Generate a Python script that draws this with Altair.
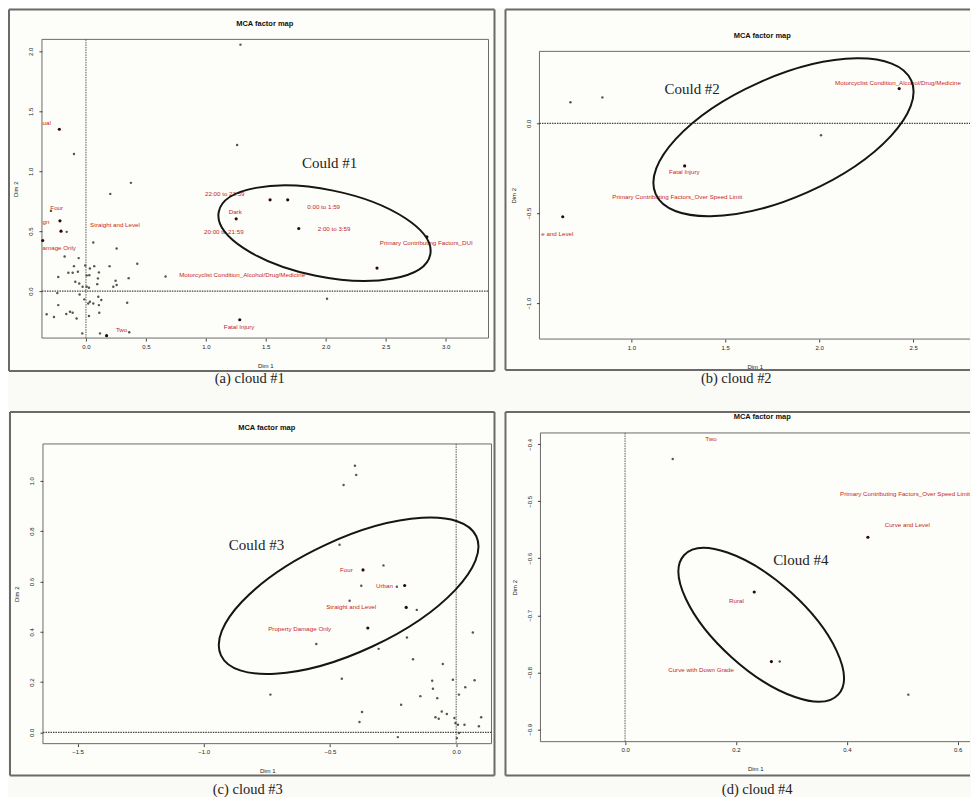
import altair as alt
import pandas as pd

SANS = "Liberation Sans"
SERIF = "Liberation Serif"
BG = "#fafaf6"
PANEL_FILL = "#fdfdf9"
RED = "#c81e1e"

# ---------------- Panel (a) cloud #1 ----------------
A_LIGHT_X = [1.289, 1.261, -0.100, 0.375, 0.203, -0.292, -0.161, 0.061, 0.256, -0.178, -0.061, 0.428,
             -0.100, -0.006, 0.033, 0.069, 0.197, -0.231, -0.147, -0.111, -0.067, 0.006, 0.028, 0.108,
             0.247, 0.356, 0.100, -0.089, -0.056, -0.028, 0.006, 0.025, 0.094, 0.256, 0.228, -0.239,
             -0.053, -0.014, 0.103, 0.033, 0.128, 0.019, 0.061, 0.344, -0.231, 0.108, -0.133, -0.111,
             -0.164, -0.328, -0.267, -0.078, 0.025, 0.111, -0.031, 0.117, 0.361, 0.664, 2.011]
A_LIGHT_Y = [2.056, 1.219, 1.144, 0.903, 0.811, 0.669, 0.494, 0.406, 0.356, 0.289, 0.275, 0.228,
             0.208, 0.214, 0.189, 0.208, 0.208, 0.117, 0.153, 0.153, 0.161, 0.131, 0.133, 0.156,
             0.086, 0.108, 0.106, 0.078, 0.064, 0.036, 0.036, 0.028, 0.058, 0.050, 0.036, -0.017,
             -0.028, -0.069, -0.047, -0.089, -0.075, -0.103, -0.103, -0.097, -0.117, -0.117, -0.172, -0.181,
             -0.192, -0.194, -0.217, -0.228, -0.208, -0.181, -0.353, -0.353, -0.344, 0.122, -0.064]
A_DARK_X = [-0.222, -0.217, -0.208, -0.361, 1.253, 1.536, 1.683, 1.775, 2.844, 2.428, 1.283, 0.172]
A_DARK_Y = [1.350, 0.586, 0.500, 0.422, 0.603, 0.761, 0.761, 0.522, 0.453, 0.192, -0.239, -0.372]
A_LABELS = ["ual", "Four", "gn", "Straight and Level", "amage Only", "22:00 to 23:59", "Dark",
            "20:00 to 21:59", "0:00 to 1:59", "2:00 to 3:59", "Primary Contributing Factors_DUI",
            "Motorcyclist Condition_Alcohol/Drug/Medicine", "Fatal Injury", "Two"]
A_LABEL_X = [-0.3275, -0.244, -0.333, 0.242, -0.2225, 1.158, 1.245, 1.15, 1.983, 2.07, 2.839, 1.303, 1.278, 0.297]
A_LABEL_Y = [1.40, 0.694, 0.578, 0.55, 0.356, 0.814, 0.656, 0.492, 0.70, 0.519, 0.397, 0.133, -0.297, -0.325]
A_CLOUD = ["Could #1"]
A_CLOUD_X = [2.033]
A_CLOUD_Y = [1.067]
A_ELL_X = [1.99]
A_ELL_Y = [0.483]
A_XTICKS = [0.0, 0.5, 1.0, 1.5, 2.0, 2.5, 3.0]
A_YTICKS = [0.0, 0.5, 1.0, 1.5, 2.0]
A_XDOM = [-0.367, 3.358]
A_YDOM = [-0.392, 2.1]

# ---------------- Panel (b) cloud #2 ----------------
B_LIGHT_X = [0.676, 0.846, 2.010]
B_LIGHT_Y = [0.117, 0.144, -0.067]
B_DARK_X = [0.635, 1.284, 2.426]
B_DARK_Y = [-0.520, -0.237, 0.193]
B_LABELS = ["Motorcyclist Condition_Alcohol/Drug/Medicine", "Fatal Injury",
            "Primary Contributing Factors_Over Speed Limit", "e and Level"]
B_LABEL_X = [2.42, 1.282, 1.245, 0.606]
B_LABEL_Y = [0.222, -0.272, -0.411, -0.617]
B_CLOUD = ["Could #2"]
B_CLOUD_X = [1.324]
B_CLOUD_Y = [0.189]
B_ELL_X = [1.81]
B_ELL_Y = [-0.078]
B_XTICKS = [1.0, 1.5, 2.0, 2.5]
B_YTICKS = [0.0, -0.5, -1.0]
B_XDOM = [0.511, 2.803]
B_YDOM = [-1.2, 0.4]

# ---------------- Panel (c) cloud #3 ----------------
C_LIGHT_X = [-0.401, -0.396, -0.446, -0.462, -0.288, -0.376, -0.235, -0.422, -0.156, -0.554, -0.195,
             -0.307, 0.066, -0.171, -0.053, -0.453, -0.095, -0.013, 0.073, -0.736, -0.092, 0.036,
             -0.142, -0.075, 0.011, -0.218, -0.373, -0.383, -0.057, -0.037, -0.082, -0.069, -0.007,
             -0.003, 0.007, 0.033, 0.099, 0.090, 0.011, -0.231, 0.003]
C_LIGHT_Y = [1.060, 1.024, 0.984, 0.746, 0.664, 0.583, 0.579, 0.523, 0.487, 0.351, 0.377,
             0.332, 0.397, 0.291, 0.272, 0.213, 0.205, 0.209, 0.207, 0.150, 0.173, 0.179,
             0.144, 0.136, 0.150, 0.110, 0.081, 0.041, 0.083, 0.073, 0.060, 0.054, 0.057,
             0.037, 0.030, 0.030, 0.060, 0.024, -0.003, -0.019, -0.023]
C_DARK_X = [-0.369, -0.204, -0.198, -0.350]
C_DARK_Y = [0.646, 0.584, 0.497, 0.415]
C_LABELS = ["Four", "Urban", "Straight and Level", "Property Damage Only"]
C_LABEL_X = [-0.435, -0.284, -0.416, -0.62]
C_LABEL_Y = [0.644, 0.583, 0.497, 0.412]
C_CLOUD = ["Could #3"]
C_CLOUD_X = [-0.791]
C_CLOUD_Y = [0.746]
C_ELL_X = [-0.426]
C_ELL_Y = [0.543]
C_XTICKS = [-1.5, -1.0, -0.5, 0.0]
C_YTICKS = [0.0, 0.2, 0.4, 0.6, 0.8, 1.0]
C_XDOM = [-1.637, 0.14]
C_YDOM = [-0.045, 1.147]

# ---------------- Panel (d) cloud #4 ----------------
D_LIGHT_X = [0.086, 0.279, 0.511]
D_LIGHT_Y = [-0.426, -0.781, -0.839]
D_DARK_X = [0.634, 0.438, 0.233, 0.264]
D_DARK_Y = [-0.518, -0.563, -0.659, -0.781]
D_LABELS = ["Two", "Primary Contributing Factors_Over Speed Limit", "Curve and Level", "Rural",
            "Curve with Down Grade"]
D_LABEL_X = [0.155, 0.505, 0.509, 0.201, 0.137]
D_LABEL_Y = [-0.391, -0.487, -0.541, -0.674, -0.795]
D_CLOUD = ["Cloud #4"]
D_CLOUD_X = [0.317]
D_CLOUD_Y = [-0.603]
D_ELL_X = [0.2456]
D_ELL_Y = [-0.7165]
D_XTICKS = [0.0, 0.2, 0.4, 0.6]
D_YTICKS = [-0.4, -0.5, -0.6, -0.7, -0.8, -0.9]
D_XDOM = [-0.1526, 0.6222]
D_YDOM = [-0.9214, -0.3802]

TITLE = "MCA factor map"
CAPTIONS = ["(a) cloud #1", "(b) cloud #2", "(c) cloud #3", "(d) cloud #4"]


def ellipse_path(ratio):
    k = 0.5523
    r = ratio
    return (f"M1,0 C1,{k*r:.4f} {k},{r:.4f} 0,{r:.4f} C{-k},{r:.4f} -1,{k*r:.4f} -1,0 "
            f"C-1,{-k*r:.4f} {-k},{-r:.4f} 0,{-r:.4f} C{k},{-r:.4f} 1,{-k*r:.4f} 1,0 Z")


def one():
    return pd.DataFrame({"k": [0]})


def box_layers(l, r, t, b, width, open_right):
    out = [alt.Chart(one()).mark_rect(fill=PANEL_FILL).encode(
        x=alt.value(l), x2=alt.value(r), y=alt.value(t), y2=alt.value(b))]
    if open_right:
        segs = [(l, l, t, b), (l, r, t, t), (l, r, b, b)]
    else:
        segs = [(l, l, t, b), (r, r, t, b), (l, r, t, t), (l, r, b, b)]
    for (x1, x2, y1, y2) in segs:
        out.append(alt.Chart(one()).mark_rule(color="#6a6a6a", strokeWidth=width).encode(
            x=alt.value(x1), x2=alt.value(x2), y=alt.value(y1), y2=alt.value(y2)))
    return out


def panel(W, H, box, frame, xdom, ydom, xticks, yticks, light, dark, labels, cloud, ell,
          ell_a, ell_b, ell_angle, title_pos, caption, caption_pos, zero_x, zero_y, open_right):
    pl, pr, pt, pb = box
    xs = alt.Scale(domain=xdom, range=[pl, pr], nice=False, zero=False)
    ys = alt.Scale(domain=ydom, range=[pb, pt], nice=False, zero=False)
    common = dict(domain=False, grid=False, zindex=2, tickSize=3, tickColor="#444",
                  labelFontSize=6, labelFont=SANS, labelColor="#222", labelFlush=False,
                  labelOverlap=False, labelBound=False, titleFont=SANS, titleFontSize=6,
                  titleFontWeight="normal", titleColor="#222", format=".1f")
    xax = alt.Axis(values=xticks, offset=pb - H, labelPadding=2, title="Dim 1", titlePadding=13, **common)
    yax = alt.Axis(values=yticks, offset=-pl, labelPadding=5, labelAngle=270, title="Dim 2",
                   titlePadding=9, **common)
    X = alt.X("x:Q", scale=xs, axis=xax)
    Y = alt.Y("y:Q", scale=ys, axis=yax)

    fl, fr, ft, fb = frame
    layers = []
    layers += box_layers(fl, fr, ft, fb, 2, open_right)
    layers += box_layers(pl, pr, pt, pb, 1, open_right)
    if zero_x:
        layers.append(alt.Chart(one()).mark_rule(color="#555", strokeWidth=1, strokeDash=[1.5, 1]).encode(
            x=alt.datum(0, scale=xs, axis=xax), y=alt.value(pt), y2=alt.value(pb)))
    if zero_y:
        layers.append(alt.Chart(one()).mark_rule(color="#444", strokeWidth=1.2, strokeDash=[1.5, 1]).encode(
            y=alt.datum(0, scale=ys, axis=yax), x=alt.value(pl), x2=alt.value(pr)))
    clip = bool(open_right)
    layers.append(alt.Chart(pd.DataFrame({"x": light[0], "y": light[1]})).mark_circle(
        size=6, color="#55554c", opacity=1, clip=clip).encode(x=X, y=Y))
    layers.append(alt.Chart(pd.DataFrame({"x": dark[0], "y": dark[1]})).mark_circle(
        size=10, color="#2a0808", opacity=1, clip=clip).encode(x=X, y=Y))
    layers.append(alt.Chart(pd.DataFrame({"x": labels[1], "y": labels[2], "t": labels[0]})).mark_text(
        font=SANS, fontSize=6.2, color=RED, align="center", baseline="middle", clip=clip).encode(
        x=X, y=Y, text="t:N"))
    layers.append(alt.Chart(pd.DataFrame({"x": ell[0], "y": ell[1]})).mark_point(
        shape=ellipse_path(ell_b / ell_a), filled=False, size=4 * ell_a * ell_a, angle=ell_angle,
        color="#151515", strokeWidth=2, opacity=1).encode(x=X, y=Y))
    layers.append(alt.Chart(pd.DataFrame({"x": cloud[1], "y": cloud[2], "t": cloud[0]})).mark_text(
        font=SERIF, fontSize=15, color="#222", align="center", baseline="middle").encode(x=X, y=Y, text="t:N"))
    layers.append(alt.Chart(pd.DataFrame({"t": [TITLE]})).mark_text(
        font=SANS, fontSize=7.5, fontWeight="bold", color="#111", align="center", baseline="middle").encode(
        x=alt.value(title_pos[0]), y=alt.value(title_pos[1]), text="t:N"))
    layers.append(alt.Chart(pd.DataFrame({"t": [caption]})).mark_text(
        font=SERIF, fontSize=14.5, color="#222", align="center", baseline="middle").encode(
        x=alt.value(caption_pos[0]), y=alt.value(caption_pos[1]), text="t:N"))
    return alt.layer(*layers).properties(width=W, height=H)


pa = panel(487, 364, (34, 481, 31, 330), (1, 487, 1, 363), A_XDOM, A_YDOM, A_XTICKS, A_YTICKS,
           (A_LIGHT_X, A_LIGHT_Y), (A_DARK_X, A_DARK_Y), (A_LABELS, A_LABEL_X, A_LABEL_Y),
           (A_CLOUD, A_CLOUD_X, A_CLOUD_Y), (A_ELL_X, A_ELL_Y), 108, 43.5, 11.5,
           (257, 16), CAPTIONS[0], (242, 371), True, True, False)
pb_ = panel(466, 364, (35, 466, 43, 331), (1, 466, 1, 362), B_XDOM, B_YDOM, B_XTICKS, B_YTICKS,
            (B_LIGHT_X, B_LIGHT_Y), (B_DARK_X, B_DARK_Y), (B_LABELS, B_LABEL_X, B_LABEL_Y),
            (B_CLOUD, B_CLOUD_X, B_CLOUD_Y), (B_ELL_X, B_ELL_Y), 140, 60, 336,
            (258, 28), CAPTIONS[1], (232, 371), False, True, True)
pc = panel(487, 366, (35, 484, 33, 333), (2, 487, 1, 365), C_XDOM, C_YDOM, C_XTICKS, C_YTICKS,
           (C_LIGHT_X, C_LIGHT_Y), (C_DARK_X, C_DARK_Y), (C_LABELS, C_LABEL_X, C_LABEL_Y),
           (C_CLOUD, C_CLOUD_X, C_CLOUD_Y), (C_ELL_X, C_ELL_Y), 141, 56, 335,
           (259, 17), CAPTIONS[2], (240, 379), True, True, False)
pd_ = panel(466, 366, (36, 466, 22, 331), (1, 466, 1, 365), D_XDOM, D_YDOM, D_XTICKS, D_YTICKS,
            (D_LIGHT_X, D_LIGHT_Y), (D_DARK_X, D_DARK_Y), (D_LABELS, D_LABEL_X, D_LABEL_Y),
            (D_CLOUD, D_CLOUD_X, D_CLOUD_Y), (D_ELL_X, D_ELL_Y), 104, 44, 42,
            (258, 6), CAPTIONS[3], (253, 379), True, False, True)

chart = alt.concat(pa, pb_, pc, pd_, columns=2, spacing={"row": 39, "column": 10}, bounds="flush",
                   align="each").properties(padding=0, background=BG).configure_view(stroke=None)

chart.save("out.html", embed_options={"renderer": "svg", "actions": False})
